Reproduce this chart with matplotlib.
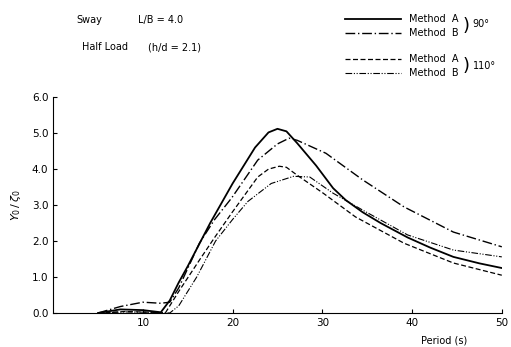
import matplotlib
matplotlib.use("Agg")
import matplotlib.pyplot as plt
from matplotlib.lines import Line2D

# period (s) and Y0/zeta0
period_a90 = [5, 7.5, 10, 12, 13, 14, 15, 17.5, 20, 22.5, 24, 25, 26, 27.2,
              29.3, 31.2, 32.6, 34.5, 36.5, 39.5, 42, 44.6, 47.5, 50]
amp_a90 = [0, 0.1, 0.08, 0.02, 0.35, 0.85, 1.3, 2.5, 3.6, 4.6, 5.02, 5.12,
           5.05, 4.72, 4.1, 3.47, 3.14, 2.8, 2.5, 2.1, 1.82, 1.56, 1.38, 1.25]

period_b90 = [5, 7.5, 10, 12, 13, 14, 16.3, 18, 19.9, 22.8, 25, 26.3, 27.2,
              30.4, 34.5, 39.1, 44.6, 50]
amp_b90 = [0, 0.18, 0.3, 0.27, 0.3, 0.7, 1.94, 2.6, 3.2, 4.25, 4.7, 4.86, 4.8,
           4.44, 3.7, 2.95, 2.25, 1.84]

period_a110 = [5, 8, 11, 12.5, 13, 14, 16.3, 18, 19.9, 22.8, 24, 25.2, 26,
               27.2, 30.1, 33.7, 39.1, 44.6, 50]
amp_a110 = [0, 0.04, 0.02, 0, 0.2, 0.6, 1.47, 2.1, 2.78, 3.78, 4.0, 4.08,
            4.05, 3.83, 3.33, 2.67, 1.94, 1.39, 1.05]

period_b110 = [5, 8, 11, 13, 14, 16, 18.1, 20, 21.7, 24.3, 26.8, 28.6, 31.2,
               34.5, 39.5, 44.6, 50]
amp_b110 = [0, 0.03, 0.02, 0, 0.2, 1.0, 2.0, 2.6, 3.1, 3.6, 3.8, 3.78, 3.33,
            2.86, 2.17, 1.75, 1.56]

legend_labels = ["Method  A", "Method  B", "Method  A", "Method  B"]
styles = [
    dict(linestyle="-", linewidth=1.3),
    dict(linestyle=(0, (7, 2, 1, 2)), linewidth=1.0),
    dict(linestyle=(0, (4, 2)), linewidth=0.9),
    dict(linestyle=(0, (6, 1.5, 1, 1.5, 1, 1.5)), linewidth=0.8),
]

plt.rcParams["font.family"] = "DejaVu Sans"
fig = plt.figure(figsize=(5.11, 3.47), dpi=100)
ax = fig.add_axes([0.104, 0.098, 0.878, 0.622])

series = [(period_a90, amp_a90), (period_b90, amp_b90),
          (period_a110, amp_a110), (period_b110, amp_b110)]
for (x, y), st in zip(series, styles):
    ax.plot(x, y, color="black", **st)

ax.set_xlim(0, 50)
ax.set_ylim(0, 6)
ax.set_xticks([10, 20, 30, 40, 50])
ax.set_yticks([0, 1, 2, 3, 4, 5, 6])
ax.set_yticklabels(["0.0", "1.0", "2.0", "3.0", "4.0", "5.0", "6.0"])
ax.tick_params(direction="in", length=3, labelsize=7.5, width=0.8)
ax.spines["top"].set_visible(False)
ax.spines["right"].set_visible(False)
ax.set_ylabel(r"$Y_0\,/\,\zeta_0$", fontsize=8, labelpad=6)
fig.text(0.87, 0.01, "Period (s)", fontsize=7, ha="center")

fig.text(0.15, 0.935, "Sway", fontsize=7)
fig.text(0.27, 0.935, "L/B = 4.0", fontsize=7)
fig.text(0.16, 0.855, "Half Load", fontsize=7)
fig.text(0.29, 0.855, "(h/d = 2.1)", fontsize=7)

# legend drawn by hand, with braces for the heading angles
rows = [0.945, 0.905, 0.830, 0.790]
for yy, st, lab in zip(rows, styles, legend_labels):
    fig.add_artist(Line2D([0.675, 0.785], [yy, yy], color="black",
                          transform=fig.transFigure, **st))
    fig.text(0.80, yy, lab, fontsize=7, va="center")
fig.text(0.905, 0.925, ")", fontsize=13, va="center")
fig.text(0.925, 0.93, "90°", fontsize=7, va="center")
fig.text(0.905, 0.81, ")", fontsize=13, va="center")
fig.text(0.925, 0.81, "110°", fontsize=7, va="center")

fig.savefig("out.png", dpi=100)
